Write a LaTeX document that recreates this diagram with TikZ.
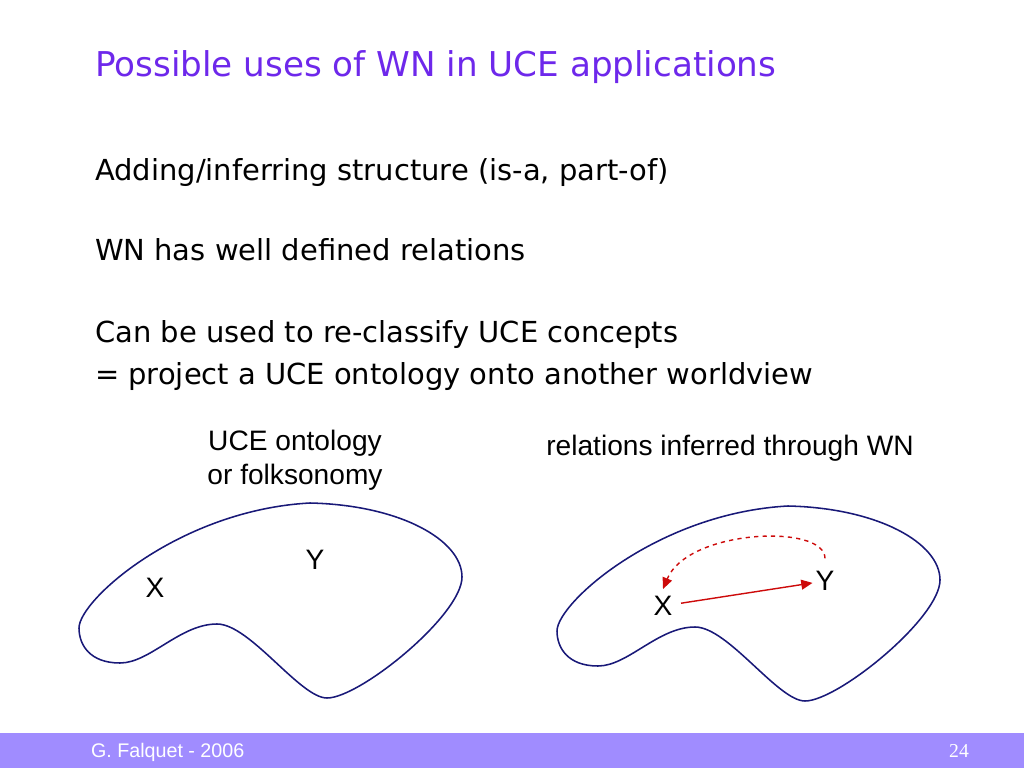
\documentclass[tikz,border=0pt]{standalone}
\usepackage{fontspec}
\setmainfont{DejaVu Sans}
\newfontfamily\arialfont{Liberation Sans}
\newfontfamily\timesfont{Liberation Serif}
\usepackage{tikz}
\usetikzlibrary{arrows.meta, positioning}
\usepackage{xcolor}
\definecolor{titlepurple}{RGB}{110,40,235}
\definecolor{bandpurple}{RGB}{160,140,255}
\definecolor{blobblue}{RGB}{25,25,120}
\definecolor{relred}{RGB}{205,10,10}

\begin{document}
\begin{tikzpicture}[x=0.025cm,y=-0.025cm,
    every node/.style={inner sep=2pt},
    line/.style={anchor=base west,font=\fontsize{20.6}{24}\selectfont},
    lbl/.style={font=\arialfont\fontsize{20}{24}\selectfont},
    blob/.style={draw=blobblue,line width=1.1pt},
    rel/.style={draw=relred,line width=1pt,-{Triangle[length=8pt,width=7pt]}}]
  \useasboundingbox (0,0) rectangle (1024,768);
  % footer band
  \fill[bandpurple] (0,733) rectangle (1024,768);
  \node[anchor=base west,text=white,font=\arialfont\fontsize{14}{16}\selectfont]
    (author) at (88,757) {G. Falquet - 2006};
  \node[anchor=base east,text=white,font=\timesfont\fontsize{14}{16}\selectfont]
    (page) at (972,757) {24};
  % title and text lines
  \node[anchor=base west,text=titlepurple,font=\fontsize{24.3}{28}\selectfont]
    (title) at (92,77) {Possible uses of WN in UCE applications};
  \foreach \n/\y/\t in {l1/180/{Adding/inferring structure (is-a, part-of)},
                        l2/260/{WN has well defined relations},
                        l3/342/{Can be used to re-classify UCE concepts},
                        l4/384/{= project a UCE ontology onto another worldview}}{
    \node[line] (\n) at (92,\y) {\t};
  }
  % captions
  \node[lbl,align=center] (cap1) at (295,460) {UCE ontology\\or folksonomy};
  \node[lbl] (cap2) at (730,448) {relations inferred through WN};
  % the two blobs
  \foreach \dx/\dy in {0/0,478/3}{
    \draw[blob,shift={(\dx,\dy)}] (79,628)
      .. controls (79,600) and (180,510) .. (310,503)
      .. controls (400,505) and (462,540) .. (462,577)
      .. controls (462,615) and (360,698) .. (327,698)
      .. controls (300,698) and (250,624) .. (217,624)
      .. controls (180,624) and (150,663) .. (120,663)
      .. controls (90,663) and (79,645) .. cycle;
  }
  \node[lbl] (x1) at (155,588) {X};
  \node[lbl] (y1) at (315,560) {Y};
  \node[lbl] (x2) at (663,606) {X};
  \node[lbl] (y2) at (825,581) {Y};
  \draw[rel,shorten <=4pt] (x2) -- (y2);
  \draw[rel,dashed] ([yshift=7pt]y2.north) .. controls +(0,-35) and +(25,-60) .. ([yshift=3pt]x2.north);
\end{tikzpicture}
\end{document}
